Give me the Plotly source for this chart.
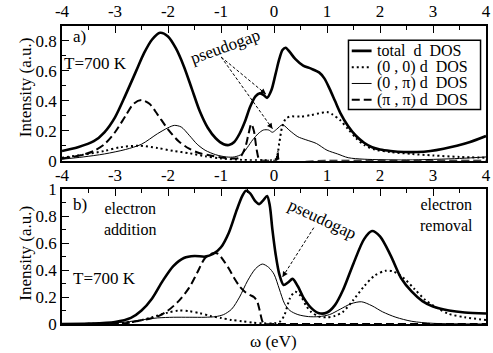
import plotly.graph_objects as go

# ---------------- data: panel a ----------------
a_total_x = [-4, -3.7, -3.4, -3.2, -3.0, -2.8, -2.6, -2.45, -2.3, -2.15, -2.0, -1.85, -1.7, -1.55, -1.4,
             -1.25, -1.1, -0.95, -0.85, -0.75, -0.65, -0.55, -0.45, -0.35, -0.27, -0.2, -0.13, -0.05,
             0.03, 0.1, 0.16, 0.22, 0.3, 0.4, 0.55, 0.7, 0.85, 0.95, 1.05, 1.15, 1.25, 1.4, 1.55, 1.7,
             1.85, 2.0, 2.2, 2.45, 2.7, 2.95, 3.2, 3.45, 3.7, 4.0]
a_total_y = [0.065, 0.09, 0.13, 0.19, 0.29, 0.44, 0.60, 0.72, 0.81, 0.855, 0.83, 0.75, 0.63, 0.48, 0.33,
             0.22, 0.15, 0.11, 0.105, 0.125, 0.18, 0.26, 0.36, 0.43, 0.45, 0.44, 0.42, 0.47,
             0.58, 0.68, 0.74, 0.755, 0.725, 0.68, 0.635, 0.615, 0.59, 0.55, 0.48, 0.40, 0.32, 0.23, 0.165, 0.12,
             0.09, 0.075, 0.065, 0.058, 0.058, 0.065, 0.08, 0.10, 0.125, 0.165]

a_00_x = [-4, -3.6, -3.2, -2.9, -2.55, -2.2, -1.9, -1.6, -1.3, -1.0, -0.6, -0.2, 0.03, 0.1, 0.15, 0.22,
          0.3, 0.5, 0.7, 0.9, 1.0, 1.1, 1.25, 1.4, 1.55, 1.7, 1.9, 2.2, 2.6, 3.0, 3.5, 4.0]
a_00_y = [0.02, 0.04, 0.065, 0.09, 0.10, 0.085, 0.065, 0.05, 0.03, 0.015, 0.005, 0.003, 0.01, 0.12, 0.22, 0.28,
          0.295, 0.295, 0.305, 0.32, 0.325, 0.31, 0.27, 0.21, 0.15, 0.105, 0.075, 0.058, 0.045, 0.035, 0.025, 0.02]

a_0pi_x = [-4, -3.6, -3.2, -2.8, -2.5, -2.2, -2.0, -1.88, -1.75, -1.6, -1.45, -1.3, -1.1, -0.9, -0.75,
           -0.6, -0.5, -0.4, -0.3, -0.2, -0.1, -0.03, 0.05, 0.16, 0.3, 0.45, 0.6, 0.8, 1.0, 1.2, 1.4, 1.7,
           2.5, 3.5, 4.0]
a_0pi_y = [0.01, 0.025, 0.045, 0.075, 0.11, 0.18, 0.22, 0.236, 0.225, 0.17, 0.11, 0.07, 0.04, 0.025, 0.025,
           0.045, 0.09, 0.14, 0.18, 0.205, 0.205, 0.19, 0.21, 0.24, 0.2, 0.16, 0.14, 0.115, 0.07, 0.045, 0.02, 0.01,
           0.005, 0.015, 0.025]

a_pipi_x = [-4, -3.8, -3.6, -3.4, -3.2, -3.0, -2.8, -2.65, -2.5, -2.35, -2.2, -2.0, -1.8, -1.6, -1.4, -1.2,
            -1.0, -0.8, -0.65, -0.55, -0.48, -0.43, -0.38, -0.33, -0.28, -0.2, 0.0, 0.04, 0.07, 0.1, 1.0, 2.0,
            3.0, 4.0]
a_pipi_y = [0.015, 0.025, 0.04, 0.065, 0.11, 0.19, 0.30, 0.38, 0.405, 0.38, 0.31, 0.21, 0.13, 0.08, 0.05, 0.035,
            0.022, 0.015, 0.02, 0.08, 0.18, 0.245, 0.2, 0.08, 0.01, 0.0, 0.0, 0.0, 0.06, 0.0, 0.0, 0.0,
            0.0, 0.0]

# ---------------- data: panel b ----------------
b_total_x = [-4, -3.5, -3.0, -2.7, -2.5, -2.3, -2.1, -1.9, -1.7, -1.5, -1.3, -1.15, -1.0, -0.85, -0.7, -0.6,
             -0.53, -0.45, -0.35, -0.28, -0.2, -0.13, -0.08, -0.03, 0.03, 0.1, 0.18, 0.27, 0.35, 0.45, 0.55,
             0.7, 0.85, 1.0, 1.15, 1.3, 1.5, 1.7, 1.85, 2.0, 2.2, 2.4, 2.6, 2.8, 3.0, 3.3, 3.6, 4.0]
b_total_y = [0.0, 0.003, 0.015, 0.045, 0.10, 0.19, 0.32, 0.43, 0.49, 0.505, 0.50, 0.52, 0.57, 0.68, 0.85, 0.95,
             0.99, 0.97, 0.91, 0.89, 0.92, 0.95, 0.88, 0.70, 0.52, 0.37, 0.29, 0.31, 0.335, 0.28, 0.20,
             0.12, 0.08, 0.085, 0.14, 0.25, 0.45, 0.63, 0.69, 0.65, 0.51, 0.34, 0.24, 0.17, 0.13, 0.10, 0.085, 0.078]

b_00_x = [-4, -3.0, -2.6, -2.3, -2.0, -1.8, -1.6, -1.4, -1.2, -1.0, -0.8, -0.6, -0.4, -0.2, 0.0, 0.12, 0.2,
          0.3, 0.4, 0.5, 0.6, 0.7, 0.85, 1.0, 1.15, 1.3, 1.5, 1.7, 1.9, 2.1, 2.25, 2.45, 2.65, 2.85, 3.05,
          3.3, 3.6, 4.0]
b_00_y = [0.0, 0.005, 0.02, 0.05, 0.085, 0.10, 0.095, 0.08, 0.06, 0.045, 0.03, 0.02, 0.01, 0.005, 0.005, 0.02, 0.07,
          0.19, 0.24, 0.21, 0.14, 0.09, 0.055, 0.05, 0.06, 0.09, 0.18, 0.28, 0.36, 0.395, 0.39, 0.34, 0.26, 0.18, 0.125,
          0.075, 0.05, 0.03]

b_0pi_x = [-4, -3.2, -2.8, -2.5, -2.2, -1.9, -1.6, -1.3, -1.1, -0.95, -0.8, -0.65, -0.5, -0.35, -0.22, -0.1,
           0.0, 0.1, 0.2, 0.3, 0.45, 0.65, 0.85, 1.05, 1.25, 1.45, 1.65, 1.85, 2.05, 2.3, 2.6, 3.0, 4.0]
b_0pi_y = [0.0, 0.005, 0.015, 0.03, 0.045, 0.05, 0.05, 0.05, 0.055, 0.07, 0.11, 0.2, 0.32, 0.41, 0.445, 0.42,
           0.37, 0.26, 0.15, 0.10, 0.07, 0.055, 0.055, 0.07, 0.11, 0.15, 0.165, 0.135, 0.09, 0.05, 0.02, 0.005, 0.0]

b_pipi_x = [-4, -3.0, -2.8, -2.6, -2.4, -2.2, -2.0, -1.8, -1.6, -1.45, -1.3, -1.15, -1.05, -0.95, -0.85,
            -0.75, -0.65, -0.55, -0.45, -0.38, -0.32, -0.27, -0.22, -0.18, 0.0, 1.0, 2.0, 3.0, 4.0]
b_pipi_y = [0.0, 0.0, 0.005, 0.02, 0.035, 0.055, 0.10, 0.17, 0.27, 0.38, 0.49, 0.525, 0.52, 0.47, 0.41,
            0.34, 0.28, 0.24, 0.215, 0.20, 0.17, 0.10, 0.02, 0.0, 0.0, 0.0, 0.0, 0.0, 0.0]

x_tickvals = [-4, -3, -2, -1, 0, 1, 2, 3, 4]
x_ticktext = ["-4", "-3", "-2", "-1", "0", "1", "2", "3", "4"]
ya_tickvals = [0, 0.2, 0.4, 0.6, 0.8]
ya_ticktext = ["0", "0.2", "0.4", "0.6", "0.8"]
yb_tickvals = [0, 0.2, 0.4, 0.6, 0.8, 1.0]
yb_ticktext = ["0", "0.2", "0.4", "0.6", "0.8", "1"]
legend_labels = ["total\u00a0\u00a0d\u00a0\u00a0DOS", "(0\u00a0,\u00a00)\u00a0d\u00a0\u00a0DOS",
                 "(0\u00a0,\u00a0\u03c0)\u00a0d\u00a0\u00a0DOS", "(\u03c0\u00a0,\u00a0\u03c0)\u00a0d\u00a0\u00a0DOS"]

FONT = "Liberation Serif"
styles = {
    "total": dict(color="black", width=2.6, dash="solid"),
    "00": dict(color="black", width=2, dash="2px,3px"),
    "0pi": dict(color="black", width=1, dash="solid"),
    "pipi": dict(color="black", width=2, dash="8px,4px"),
}

fig = go.Figure()
for xs, ys, st, ax in [
    (a_pipi_x, a_pipi_y, "pipi", 1), (a_00_x, a_00_y, "00", 1), (a_0pi_x, a_0pi_y, "0pi", 1), (a_total_x, a_total_y, "total", 1),
    (b_pipi_x, b_pipi_y, "pipi", 2), (b_00_x, b_00_y, "00", 2), (b_0pi_x, b_0pi_y, "0pi", 2), (b_total_x, b_total_y, "total", 2),
]:
    fig.add_trace(go.Scatter(x=xs, y=ys, mode="lines", line=dict(shape="spline", smoothing=0.8, **styles[st]),
                             xaxis="x" if ax == 1 else "x2", yaxis="y" if ax == 1 else "y2",
                             showlegend=False, hoverinfo="skip", cliponaxis=True))

axis_common = dict(showline=True, linecolor="black", linewidth=1.5, mirror=True, showgrid=False, zeroline=False,
                   ticks="inside", ticklen=7, tickwidth=1.2, tickcolor="black",
                   tickfont=dict(family=FONT, size=17, color="black"))
fig.update_layout(
    width=493, height=353, margin=dict(l=62, r=2, t=23, b=29),
    paper_bgcolor="white", plot_bgcolor="white",
    xaxis=dict(domain=[0, 1], range=[-4, 4], side="top", anchor="y", tickvals=x_tickvals, ticktext=x_ticktext,
               ticklabeloverflow="allow",
               minor=dict(dtick=0.5, ticks="inside", ticklen=4, tickcolor="black", tickwidth=1), **axis_common),
    yaxis=dict(domain=[0.548, 1], range=[0, 0.9], anchor="x", tickvals=ya_tickvals, ticktext=ya_ticktext,
               minor=dict(dtick=0.1, ticks="inside", ticklen=4, tickcolor="black", tickwidth=1), **axis_common),
    xaxis2=dict(domain=[0, 1], range=[-4, 4], side="top", anchor="y2", tickvals=x_tickvals, ticktext=x_ticktext,
                ticklabeloverflow="allow",
                minor=dict(dtick=0.5, ticks="inside", ticklen=4, tickcolor="black", tickwidth=1), **axis_common),
    yaxis2=dict(domain=[0, 0.452], range=[0, 1.0], anchor="x2", tickvals=yb_tickvals, ticktext=yb_ticktext,
                minor=dict(dtick=0.1, ticks="inside", ticklen=4, tickcolor="black", tickwidth=1), **axis_common),
    font=dict(family=FONT, size=17, color="black"),
)

def txt(text, x, y, xref="x", yref="y", xanchor="center", angle=0, size=17):
    fig.add_annotation(text=text, x=x, y=y, xref=xref, yref=yref, xanchor=xanchor, yanchor="middle",
                       showarrow=False, textangle=angle, borderpad=0,
                       font=dict(family=FONT, size=size, color="black"))

# panel a texts
txt("a)", -3.82, 0.833, xanchor="left")
txt("T=700 K", -3.99, 0.648, xanchor="left")
txt("pseudogap", -0.91, 0.76, angle=-20)
txt("Intensity (a.u.)", -0.0862, 0.796, xref="paper", yref="paper", angle=-90)
# panel b texts
txt("b)", -3.82, 0.89, xref="x2", yref="y2", xanchor="left")
txt("electron<br>addition", -2.72, 0.776, xref="x2", yref="y2", size=16)
txt("T=700 K", -3.82, 0.338, xref="x2", yref="y2", xanchor="left")
txt("electron<br>removal", 3.262, 0.806, xref="x2", yref="y2", size=16)
txt("pseudogap", 0.92, 0.777, xref="x2", yref="y2", angle=25)
txt("Inensity (a.u.)", -0.0862, 0.2375, xref="paper", yref="paper", angle=-90)
txt("\u03c9 (eV)", 0.499, -0.0598, xref="paper", yref="paper")

# pseudogap arrows (dashed shafts + heads)
arrows = [("x", "y", -0.995, 0.692, -0.153, 0.445), ("x", "y", -0.995, 0.692, -0.028, 0.213),
          ("x2", "y2", 0.751, 0.715, 0.159, 0.348)]
for xr, yr, x0, y0, x1, y1 in arrows:
    fig.add_shape(type="line", xref=xr, yref=yr, x0=x0, y0=y0, x1=x1, y1=y1,
                  line=dict(color="black", width=1, dash="3px,2px"))
    fig.add_annotation(x=x1, y=y1, ax=x1 + (x0 - x1) * 0.08, ay=y1 + (y0 - y1) * 0.08, xref=xr, yref=yr,
                       axref=xr, ayref=yr, showarrow=True, arrowhead=2, arrowsize=1.1, arrowwidth=1,
                       arrowcolor="black", text="")

# legend (panel a)
fig.add_shape(type="rect", xref="x", yref="y", x0=1.405, x1=3.897, y0=0.342, y1=0.805,
              line=dict(color="black", width=1.5), fillcolor="white", layer="above")
rows_y = [0.734, 0.625, 0.516, 0.407]
for lab, ry, st in zip(legend_labels, rows_y, ["total", "00", "0pi", "pipi"]):
    s = styles[st]
    fig.add_shape(type="line", xref="x", yref="y", x0=1.467, x1=1.841, y0=ry, y1=ry,
                  line=dict(color="black", width=s["width"], dash=s["dash"]), layer="above")
    txt(lab, 1.92, ry, xanchor="left", size=16)

fig.write_html("out.html")
